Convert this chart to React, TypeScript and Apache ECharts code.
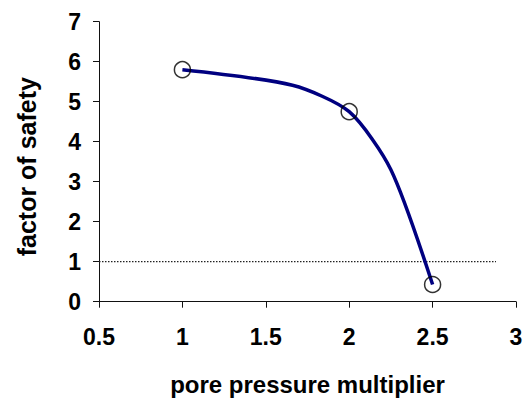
import React, { useEffect, useRef } from "react";
import * as echarts from "echarts";

const xTicks = [0.5, 1, 1.5, 2, 2.5, 3];
const yTicks = [0, 1, 2, 3, 4, 5, 6, 7];
const markerX = [1, 2, 2.5];
const markerY = [5.8, 4.75, 0.43];
const curveX = [1, 1.66, 2, 2.25, 2.5];
const curveY = [5.8, 5.41, 4.75, 3.3, 0.43];
const thresholdX = [0.5, 2.88];
const thresholdY = [1, 1];

const FONT = "'Liberation Sans', Arial, sans-serif";

export default function App() {
  const ref = useRef<HTMLDivElement>(null);
  useEffect(() => {
    if (!ref.current) return;
    const chart = echarts.init(ref.current, null, { renderer: "svg" });
    const axisLabel = { color: "#000", fontFamily: FONT, fontWeight: "bold", fontSize: 23 };
    chart.setOption({
      animation: false,
      backgroundColor: "#fff",
      grid: { left: 99, right: 13, top: 21.7, bottom: 101.3, containLabel: false, outerBoundsMode: "none" },
      xAxis: {
        type: "value",
        min: xTicks[0],
        max: xTicks[xTicks.length - 1],
        interval: 0.5,
        name: "pore pressure multiplier",
        nameLocation: "middle",
        nameGap: 71,
        nameTextStyle: { color: "#000", fontFamily: FONT, fontWeight: "bold", fontSize: 24 },
        axisLine: { show: true, onZero: false, lineStyle: { color: "#111", width: 1 } },
        axisTick: { show: true, inside: false, length: 6, lineStyle: { color: "#111" } },
        axisLabel: { ...axisLabel, margin: 24, formatter: (v: number) => String(v) },
        splitLine: { show: false },
      },
      yAxis: {
        type: "value",
        min: yTicks[0],
        max: yTicks[yTicks.length - 1],
        interval: 1,
        name: "factor of safety",
        nameLocation: "middle",
        nameGap: 60,
        nameRotate: 90,
        nameTextStyle: { color: "#000", fontFamily: FONT, fontWeight: "bold", fontSize: 25, padding: [0, 10, 0, 0] },
        axisLine: { show: true, onZero: false, lineStyle: { color: "#111", width: 1 } },
        axisTick: { show: true, inside: false, length: 6, lineStyle: { color: "#111" } },
        axisLabel: { ...axisLabel, margin: 18 },
        splitLine: { show: false },
      },
      series: [
        {
          type: "line",
          data: thresholdX.map((x, i) => [x, thresholdY[i]]),
          symbol: "none",
          lineStyle: { color: "#222", width: 1.3, type: [1.5, 1.5] },
          silent: true,
          z: 1,
        },
        {
          type: "line",
          data: curveX.map((x, i) => [x, curveY[i]]),
          smooth: 0.25,
          symbol: "none",
          lineStyle: { color: "#000080", width: 3.5 },
          z: 2,
        },
        {
          type: "scatter",
          data: markerX.map((x, i) => [x, markerY[i]]),
          symbol: "circle",
          symbolSize: 16,
          itemStyle: { color: "none", borderColor: "#000", borderWidth: 1.5 },
          z: 3,
        },
      ],
    });
    return () => chart.dispose();
  }, []);
  return (
    <div
      ref={ref}
      style={{ position: "fixed", left: 0, top: 0, width: 529, height: 403, background: "#fff" }}
    />
  );
}
